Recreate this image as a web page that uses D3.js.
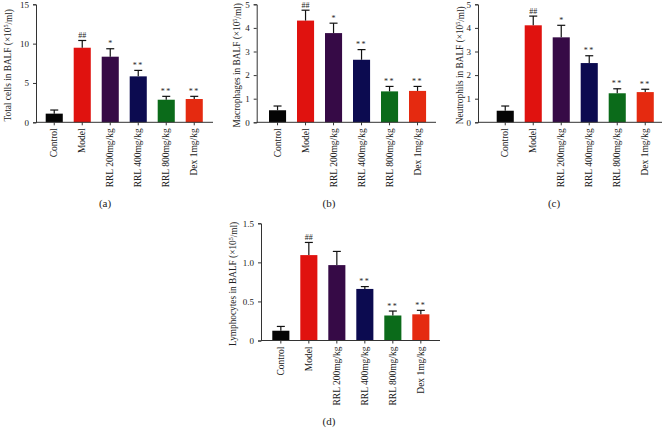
<!DOCTYPE html>
<html><head><meta charset="utf-8">
<script src="https://cdn.jsdelivr.net/npm/d3@7"></script>
<style>
body{margin:0;background:#fff;}
svg text{font-family:"Liberation Serif","Times New Roman",serif;fill:#222;}
</style></head>
<body>
<svg id="c" width="663" height="428"></svg>
<script>
const categories = ["Control","Model","RRL 200mg/kg","RRL 400mg/kg","RRL 800mg/kg","Dex 1mg/kg"];
const barColors = ["#050505","#e0120f","#360a46","#0c0b50","#0b6b1a","#e52a10"];

const totalMeans = [1.1, 9.48, 8.34, 5.84, 2.87, 2.96];
const totalErr   = [0.46, 0.92, 1.01, 0.76, 0.43, 0.34];
const totalSig   = ["", "##", "*", "**", "**", "**"];

const macroMeans = [0.51, 4.31, 3.78, 2.65, 1.31, 1.33];
const macroErr   = [0.18, 0.44, 0.42, 0.43, 0.21, 0.19];
const macroSig   = ["", "##", "*", "**", "**", "**"];

const neutroMeans = [0.49, 4.11, 3.60, 2.51, 1.23, 1.28];
const neutroErr   = [0.20, 0.39, 0.51, 0.31, 0.19, 0.12];
const neutroSig   = ["", "##", "*", "**", "**", "**"];

const lymphoMeans = [0.125, 1.093, 0.965, 0.66, 0.32, 0.335];
const lymphoErr   = [0.055, 0.162, 0.175, 0.03, 0.057, 0.051];
const lymphoSig   = ["", "##", "", "**", "**", "**"];

const totalTicks = [0, 5, 10, 15];
const fiveTicks = [0, 1, 2, 3, 4, 5];
const lymphoTicks = [0, 0.5, 1.0, 1.5];

const panels = [
  {means: totalMeans, err: totalErr, sig: totalSig, max: 15, ticks: totalTicks, fmt: d => String(d),
   label: "Total cells in BALF", tag: "(a)",
   ax: 36, axEnd: 213, off: 9.7, y0: 122.3, y1: 4.3, labX: 8, tagX: 105, tagY: 207},
  {means: macroMeans, err: macroErr, sig: macroSig, max: 5, ticks: fiveTicks, fmt: d => String(d),
   label: "Macrophages in BALF", tag: "(b)",
   ax: 256.7, axEnd: 436, off: 12.3, y0: 122.3, y1: 4.3, labX: 237, tagX: 329, tagY: 207},
  {means: neutroMeans, err: neutroErr, sig: neutroSig, max: 5, ticks: fiveTicks, fmt: d => String(d),
   label: "Neutrophils in BALF", tag: "(c)",
   ax: 478, axEnd: 662, off: 18.7, y0: 122.3, y1: 4.3, labX: 460, tagX: 554, tagY: 207},
  {means: lymphoMeans, err: lymphoErr, sig: lymphoSig, max: 1.5, ticks: lymphoTicks, fmt: d => d === 0 ? "0" : d.toFixed(1),
   label: "Lymphocytes in BALF", tag: "(d)",
   ax: 261, axEnd: 440, off: 11.3, y0: 340.5, y1: 223.3, labX: 233, tagX: 329, tagY: 425}
];

const svg = d3.select("#c");
const axisColor = "#333";

panels.forEach(p => {
  const g = svg.append("g");
  const step = 28;
  const x = d3.scaleBand().domain(categories)
    .range([p.ax + p.off, p.ax + p.off + step * (6 - 0.39)])
    .paddingInner(0.39).paddingOuter(0);
  const y = d3.scaleLinear().domain([0, p.max]).range([p.y0, p.y1]);

  g.selectAll("rect.bar").data(categories).join("rect")
    .attr("x", d => x(d)).attr("width", x.bandwidth())
    .attr("y", (d, i) => y(p.means[i]))
    .attr("height", (d, i) => y(0) - y(p.means[i]))
    .attr("fill", (d, i) => barColors[i]);

  const eb = g.selectAll("g.eb").data(categories).join("g");
  eb.append("line")
    .attr("x1", d => x(d) + x.bandwidth() / 2).attr("x2", d => x(d) + x.bandwidth() / 2)
    .attr("y1", (d, i) => y(p.means[i])).attr("y2", (d, i) => y(p.means[i] + p.err[i]))
    .attr("stroke", "#111").attr("stroke-width", 1.2);
  eb.append("line")
    .attr("x1", d => x(d) + x.bandwidth() / 2 - 4).attr("x2", d => x(d) + x.bandwidth() / 2 + 4)
    .attr("y1", (d, i) => y(p.means[i] + p.err[i])).attr("y2", (d, i) => y(p.means[i] + p.err[i]))
    .attr("stroke", "#111").attr("stroke-width", 1.2);
  eb.append("text")
    .attr("x", d => x(d) + x.bandwidth() / 2)
    .attr("y", (d, i) => y(p.means[i] + p.err[i]) - 2.5)
    .attr("text-anchor", "middle").attr("font-size", 8)
    .attr("letter-spacing", (d, i) => p.sig[i] === "**" ? 1.5 : 0)
    .text((d, i) => p.sig[i]);

  const ya = g.append("g").attr("transform", `translate(${p.ax},0)`)
    .call(d3.axisLeft(y).tickValues(p.ticks).tickFormat(p.fmt).tickSize(3).tickPadding(4));
  ya.select(".domain").attr("stroke", axisColor);
  ya.selectAll(".tick line").attr("stroke", axisColor);
  ya.selectAll(".tick text").attr("font-size", 9).attr("font-family", "Liberation Serif, serif").attr("fill", "#222");

  const xa = g.append("g").attr("transform", `translate(0,${p.y0})`)
    .call(d3.axisBottom(x).tickSize(3).tickPadding(3));
  xa.select(".domain").remove();
  xa.append("line").attr("x1", p.ax).attr("x2", p.axEnd).attr("y1", 0).attr("y2", 0)
    .attr("stroke", axisColor).attr("stroke-width", 1);
  xa.selectAll(".tick line").attr("stroke", axisColor);
  xa.selectAll(".tick text")
    .attr("font-size", 9.5).attr("font-family", "Liberation Serif, serif").attr("fill", "#222")
    .attr("text-anchor", "end")
    .attr("transform", "rotate(-90)")
    .attr("x", -6).attr("y", 0).attr("dy", "0.32em");

  const ymid = (p.y0 + p.y1) / 2 + 2;
  const t = g.append("text")
    .attr("transform", `translate(${p.labX},${ymid}) rotate(-90)`)
    .attr("text-anchor", "middle").attr("font-size", 9.3).attr("dy", "0.35em");
  t.append("tspan").text(p.label + " (×10");
  t.append("tspan").attr("font-size", 6).attr("dy", "-0.5em").text("5");
  t.append("tspan").attr("dy", "0.35em").text("/ml)");

  g.append("text").attr("x", p.tagX).attr("y", p.tagY)
    .attr("text-anchor", "middle").attr("font-size", 11).text(p.tag);
});
</script>
</body></html>
